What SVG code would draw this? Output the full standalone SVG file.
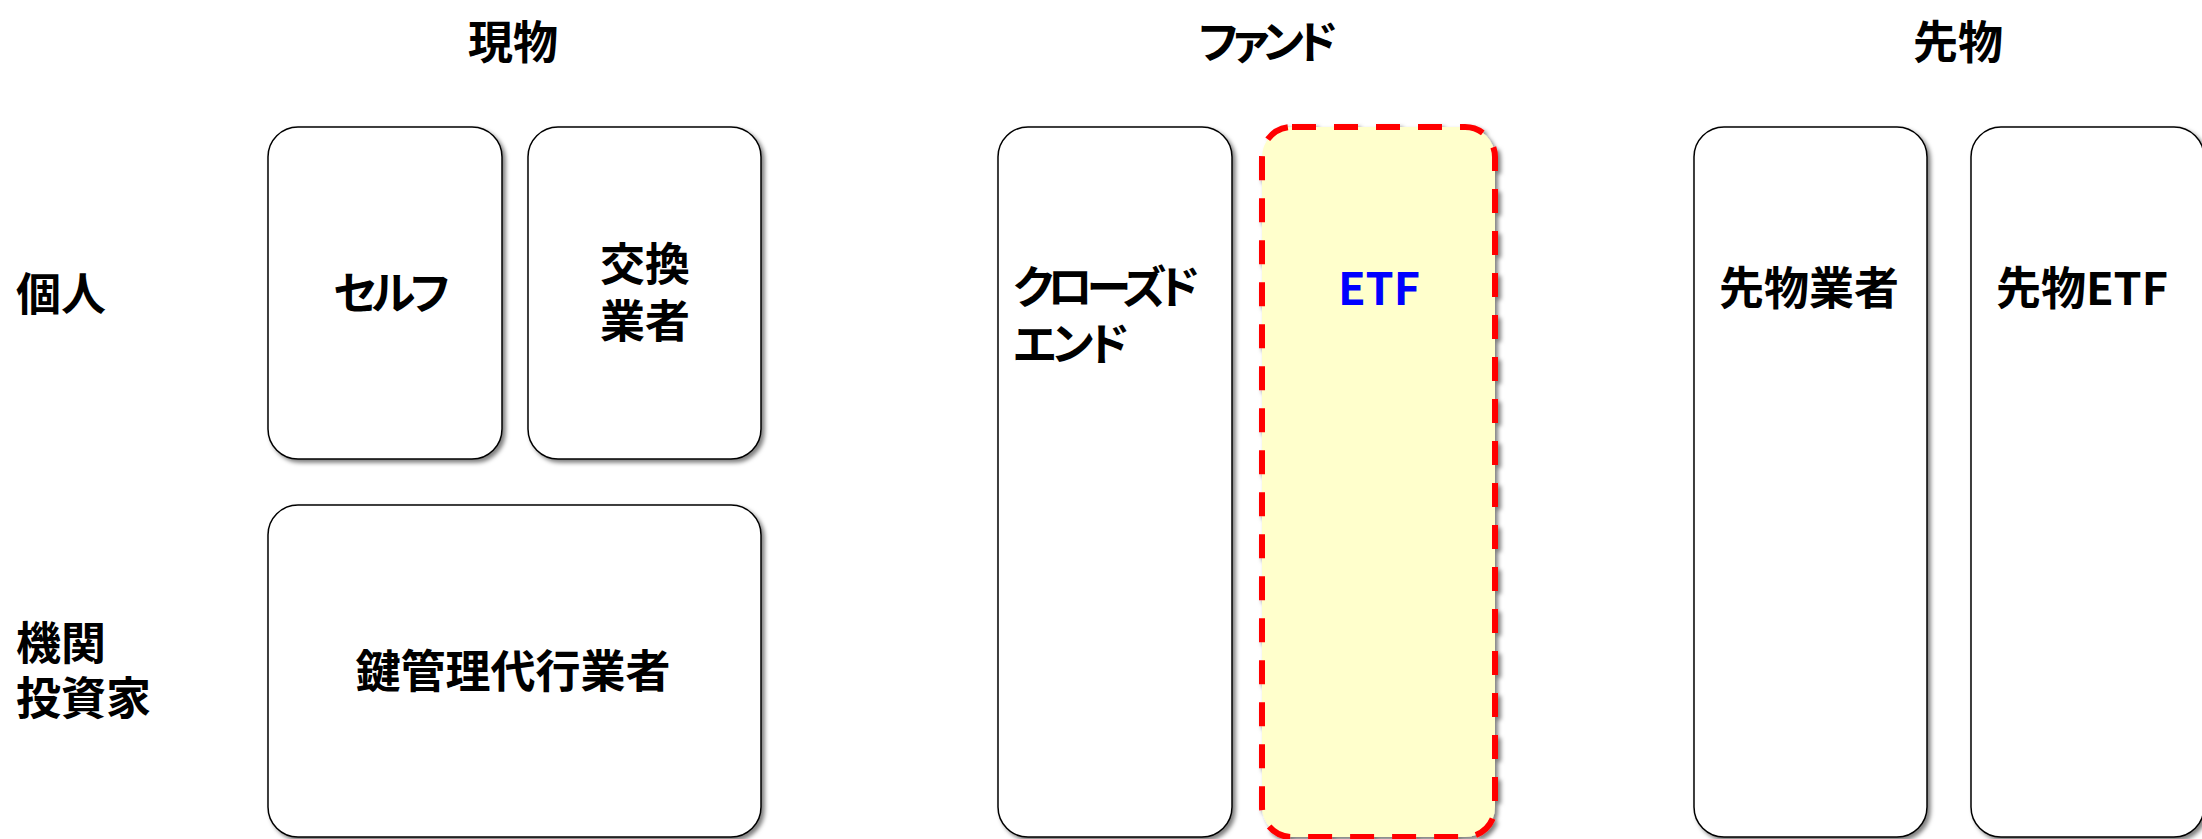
<svg xmlns="http://www.w3.org/2000/svg" width="2202" height="839" viewBox="0 0 2202 839">
<defs>
<filter id="sh" x="-10%" y="-10%" width="130%" height="130%">
<feDropShadow dx="3" dy="3" stdDeviation="2" flood-color="#000" flood-opacity="0.5"/>
</filter>
<style>
.box{fill:#fff;stroke:#000;stroke-width:1.5;filter:url(#sh)}
.etf{fill:#FFFFCC;stroke:#FF0000;stroke-width:6;stroke-dasharray:24 18;filter:url(#sh)}
text{font-family:"Noto Sans CJK JP","Liberation Sans",sans-serif;font-size:45px;font-weight:bold;fill:#000}
.c{text-anchor:middle}
.kana{font-feature-settings:"palt"}
.blue{fill:#0000FF}
</style>
</defs>
<rect width="2202" height="839" fill="#fff"/>
<g id="headers">
<text class="c" x="513" y="59">現物</text>
<text class="c kana" x="1265" y="59" letter-spacing="-6">ファンド</text>
<text class="c" x="1958" y="59">先物</text>
</g>
<g id="row-labels">
<text x="16" y="311">個人</text>
<text x="16" y="660">機関</text>
<text x="16" y="715">投資家</text>
</g>
<g id="self">
<rect class="box" x="268" y="127" width="234" height="332" rx="30"/>
<text class="c kana" x="389" y="310" letter-spacing="-5">セルフ</text>
</g>
<g id="exchange">
<rect class="box" x="528" y="127" width="233" height="332" rx="30"/>
<text class="c" x="645" y="281">交換</text>
<text class="c" x="645" y="338">業者</text>
</g>
<g id="custody">
<rect class="box" x="268" y="505" width="493" height="332" rx="30"/>
<text class="c" x="513" y="688">鍵管理代行業者</text>
</g>
<g id="closed-end">
<rect class="box" x="998" y="127" width="234" height="710" rx="30"/>
<text class="kana" x="1013" y="304" letter-spacing="-6">クローズド</text>
<text class="kana" x="1013" y="361" letter-spacing="-4">エンド</text>
</g>
<g id="etf">
<rect class="etf" x="1262" y="127" width="233" height="710" rx="30"/>
<text class="c blue" x="1379" y="305">ETF</text>
</g>
<g id="futures-dealer">
<rect class="box" x="1694" y="127" width="233" height="710" rx="30"/>
<text class="c" x="1809" y="305">先物業者</text>
</g>
<g id="futures-etf">
<rect class="box" x="1971" y="127" width="233" height="710" rx="30"/>
<text class="c" x="2082" y="305">先物ETF</text>
</g>
<g id="connectors"/>
</svg>
